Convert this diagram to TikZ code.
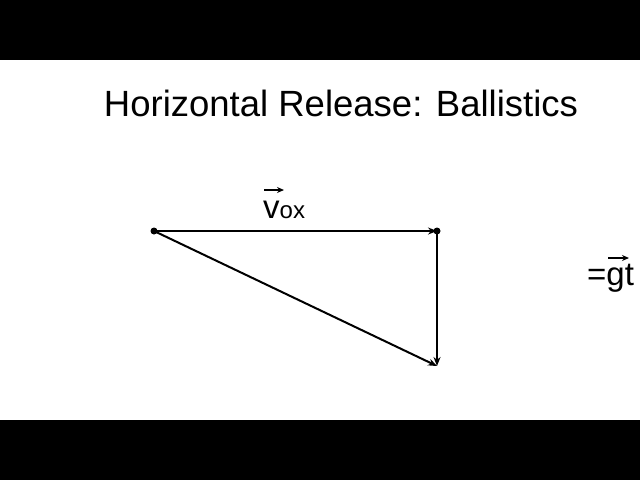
\documentclass[tikz,border=0pt]{standalone}
\usepackage{fontspec}
\setmainfont{Liberation Sans}
\usetikzlibrary{arrows.meta}
\begin{document}
\begin{tikzpicture}[x=1pt,y=-1pt,
  vec/.style={line width=2pt,-{Stealth[length=9pt,width=7pt]}},
  ovec/.style={line width=2pt,-{Stealth[length=7pt,width=6pt]}},
  dot/.style={circle,fill=black,inner sep=0pt,minimum size=7pt},
  lbl/.style={inner sep=0pt,font=\fontsize{33}{36}\selectfont}]
\useasboundingbox (0,0) rectangle (640,480);
\fill[black] (0,0) rectangle (640,60);
\fill[black] (0,420) rectangle (640,480);
\node[inner sep=0pt,font=\fontsize{36.5}{40}\selectfont] (title) at (341,103) {Horizontal Release: Ballistics};
\node[dot] (A) at (154,231) {};
\node[dot] (B) at (437,231) {};
\coordinate (C) at (437,366);
\draw[vec] (A.center) -- (B.center);
\draw[vec] (B.center) -- (C);
\draw[vec] (A.center) -- (C);
\node[lbl,anchor=base west] (v) at (263,218) {v{\fontsize{24}{28}\selectfont ox}};
\coordinate (v1) at (264,190); \coordinate (v2) at (284,190);
\draw[ovec] (v1) -- (v2);
\node[lbl,anchor=base west] (g) at (587,285) {=gt};
\coordinate (g1) at (608,258); \coordinate (g2) at (629,258);
\draw[ovec] (g1) -- (g2);
\end{tikzpicture}
\end{document}
